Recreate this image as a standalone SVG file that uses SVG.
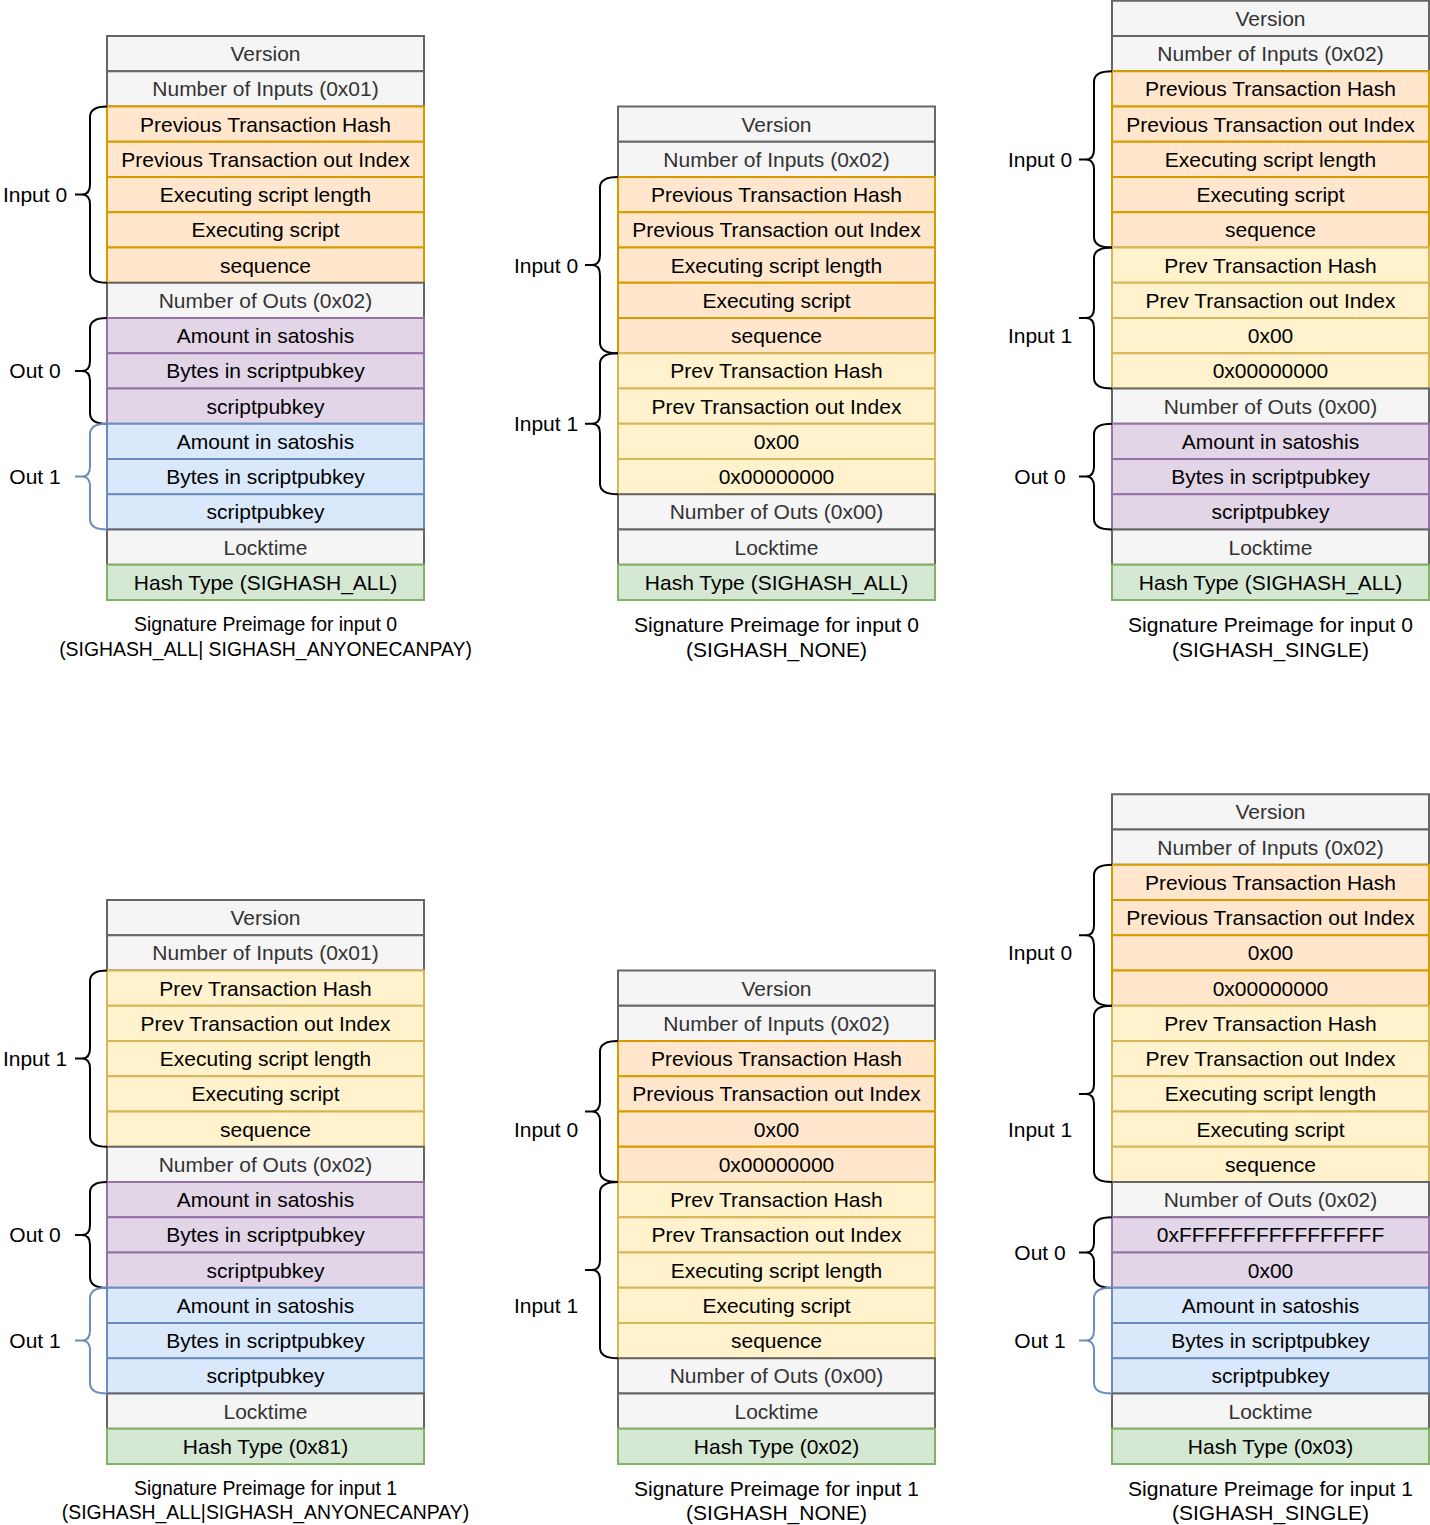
<svg xmlns="http://www.w3.org/2000/svg" width="1430" height="1525" viewBox="0 0 1430 1525">
<style>
rect{stroke-width:2}
.g{fill:#f5f5f5;stroke:#666666}
.o{fill:#ffe6cc;stroke:#d79b00}
.y{fill:#fff2cc;stroke:#d6b656}
.p{fill:#e1d5e7;stroke:#9673a6}
.b{fill:#dae8fc;stroke:#6c8ebf}
.n{fill:#d5e8d4;stroke:#82b366}
text{font-family:"Liberation Sans",Arial,sans-serif;font-size:21px;text-anchor:middle;fill:#000}
text.tg{fill:#333333}
.cap1{font-size:19.4px}
.br{fill:none;stroke:#000;stroke-width:2}
.bb{fill:none;stroke:#6c8ebf;stroke-width:2}
</style>

<!-- Table A: top-left -->
<g id="tableA">
<g id="A0"><rect class="g" x="107" y="36" width="317" height="35.25"/><text class="tg" x="265.5" y="61">Version</text></g>
<g id="A1"><rect class="g" x="107" y="71.25" width="317" height="35.25"/><text class="tg" x="265.5" y="96.25">Number of Inputs (0x01)</text></g>
<g id="A2"><rect class="o" x="107" y="106.5" width="317" height="35.25"/><text x="265.5" y="131.5">Previous Transaction Hash</text></g>
<g id="A3"><rect class="o" x="107" y="141.75" width="317" height="35.25"/><text x="265.5" y="166.75">Previous Transaction out Index</text></g>
<g id="A4"><rect class="o" x="107" y="177" width="317" height="35.25"/><text x="265.5" y="202">Executing script length</text></g>
<g id="A5"><rect class="o" x="107" y="212.25" width="317" height="35.25"/><text x="265.5" y="237.25">Executing script</text></g>
<g id="A6"><rect class="o" x="107" y="247.5" width="317" height="35.25"/><text x="265.5" y="272.5">sequence</text></g>
<g id="A7"><rect class="g" x="107" y="282.75" width="317" height="35.25"/><text class="tg" x="265.5" y="307.75">Number of Outs (0x02)</text></g>
<g id="A8"><rect class="p" x="107" y="318" width="317" height="35.25"/><text x="265.5" y="343">Amount in satoshis</text></g>
<g id="A9"><rect class="p" x="107" y="353.25" width="317" height="35.25"/><text x="265.5" y="378.25">Bytes in scriptpubkey</text></g>
<g id="A10"><rect class="p" x="107" y="388.5" width="317" height="35.25"/><text x="265.5" y="413.5">scriptpubkey</text></g>
<g id="A11"><rect class="b" x="107" y="423.75" width="317" height="35.25"/><text x="265.5" y="448.75">Amount in satoshis</text></g>
<g id="A12"><rect class="b" x="107" y="459" width="317" height="35.25"/><text x="265.5" y="484">Bytes in scriptpubkey</text></g>
<g id="A13"><rect class="b" x="107" y="494.25" width="317" height="35.25"/><text x="265.5" y="519.25">scriptpubkey</text></g>
<g id="A14"><rect class="g" x="107" y="529.5" width="317" height="35.25"/><text class="tg" x="265.5" y="554.5">Locktime</text></g>
<g id="A15"><rect class="n" x="107" y="564.75" width="317" height="35.25"/><text x="265.5" y="589.75">Hash Type (SIGHASH_ALL)</text></g>
<g id="A-caption"><text class="cap1" x="265.5" y="631">Signature Preimage for input 0</text><text class="cap1" x="265.5" y="656">(SIGHASH_ALL| SIGHASH_ANYONECANPAY)</text></g>
</g>

<!-- Table B: top-middle -->
<g id="tableB">
<g id="B0"><rect class="g" x="618" y="106.5" width="317" height="35.25"/><text class="tg" x="776.5" y="131.5">Version</text></g>
<g id="B1"><rect class="g" x="618" y="141.75" width="317" height="35.25"/><text class="tg" x="776.5" y="166.75">Number of Inputs (0x02)</text></g>
<g id="B2"><rect class="o" x="618" y="177" width="317" height="35.25"/><text x="776.5" y="202">Previous Transaction Hash</text></g>
<g id="B3"><rect class="o" x="618" y="212.25" width="317" height="35.25"/><text x="776.5" y="237.25">Previous Transaction out Index</text></g>
<g id="B4"><rect class="o" x="618" y="247.5" width="317" height="35.25"/><text x="776.5" y="272.5">Executing script length</text></g>
<g id="B5"><rect class="o" x="618" y="282.75" width="317" height="35.25"/><text x="776.5" y="307.75">Executing script</text></g>
<g id="B6"><rect class="o" x="618" y="318" width="317" height="35.25"/><text x="776.5" y="343">sequence</text></g>
<g id="B7"><rect class="y" x="618" y="353.25" width="317" height="35.25"/><text x="776.5" y="378.25">Prev Transaction Hash</text></g>
<g id="B8"><rect class="y" x="618" y="388.5" width="317" height="35.25"/><text x="776.5" y="413.5">Prev Transaction out Index</text></g>
<g id="B9"><rect class="y" x="618" y="423.75" width="317" height="35.25"/><text x="776.5" y="448.75">0x00</text></g>
<g id="B10"><rect class="y" x="618" y="459" width="317" height="35.25"/><text x="776.5" y="484">0x00000000</text></g>
<g id="B11"><rect class="g" x="618" y="494.25" width="317" height="35.25"/><text class="tg" x="776.5" y="519.25">Number of Outs (0x00)</text></g>
<g id="B12"><rect class="g" x="618" y="529.5" width="317" height="35.25"/><text class="tg" x="776.5" y="554.5">Locktime</text></g>
<g id="B13"><rect class="n" x="618" y="564.75" width="317" height="35.25"/><text x="776.5" y="589.75">Hash Type (SIGHASH_ALL)</text></g>
<g id="B-caption"><text x="776.5" y="631.5">Signature Preimage for input 0</text><text x="776.5" y="656.5">(SIGHASH_NONE)</text></g>
</g>

<!-- Table C: top-right -->
<g id="tableC">
<g id="C0"><rect class="g" x="1112" y="0.75" width="317" height="35.25"/><text class="tg" x="1270.5" y="25.75">Version</text></g>
<g id="C1"><rect class="g" x="1112" y="36" width="317" height="35.25"/><text class="tg" x="1270.5" y="61">Number of Inputs (0x02)</text></g>
<g id="C2"><rect class="o" x="1112" y="71.25" width="317" height="35.25"/><text x="1270.5" y="96.25">Previous Transaction Hash</text></g>
<g id="C3"><rect class="o" x="1112" y="106.5" width="317" height="35.25"/><text x="1270.5" y="131.5">Previous Transaction out Index</text></g>
<g id="C4"><rect class="o" x="1112" y="141.75" width="317" height="35.25"/><text x="1270.5" y="166.75">Executing script length</text></g>
<g id="C5"><rect class="o" x="1112" y="177" width="317" height="35.25"/><text x="1270.5" y="202">Executing script</text></g>
<g id="C6"><rect class="o" x="1112" y="212.25" width="317" height="35.25"/><text x="1270.5" y="237.25">sequence</text></g>
<g id="C7"><rect class="y" x="1112" y="247.5" width="317" height="35.25"/><text x="1270.5" y="272.5">Prev Transaction Hash</text></g>
<g id="C8"><rect class="y" x="1112" y="282.75" width="317" height="35.25"/><text x="1270.5" y="307.75">Prev Transaction out Index</text></g>
<g id="C9"><rect class="y" x="1112" y="318" width="317" height="35.25"/><text x="1270.5" y="343">0x00</text></g>
<g id="C10"><rect class="y" x="1112" y="353.25" width="317" height="35.25"/><text x="1270.5" y="378.25">0x00000000</text></g>
<g id="C11"><rect class="g" x="1112" y="388.5" width="317" height="35.25"/><text class="tg" x="1270.5" y="413.5">Number of Outs (0x00)</text></g>
<g id="C12"><rect class="p" x="1112" y="423.75" width="317" height="35.25"/><text x="1270.5" y="448.75">Amount in satoshis</text></g>
<g id="C13"><rect class="p" x="1112" y="459" width="317" height="35.25"/><text x="1270.5" y="484">Bytes in scriptpubkey</text></g>
<g id="C14"><rect class="p" x="1112" y="494.25" width="317" height="35.25"/><text x="1270.5" y="519.25">scriptpubkey</text></g>
<g id="C15"><rect class="g" x="1112" y="529.5" width="317" height="35.25"/><text class="tg" x="1270.5" y="554.5">Locktime</text></g>
<g id="C16"><rect class="n" x="1112" y="564.75" width="317" height="35.25"/><text x="1270.5" y="589.75">Hash Type (SIGHASH_ALL)</text></g>
<g id="C-caption"><text x="1270.5" y="631.5">Signature Preimage for input 0</text><text x="1270.5" y="656.5">(SIGHASH_SINGLE)</text></g>
</g>

<!-- Table D: bottom-left -->
<g id="tableD">
<g id="D0"><rect class="g" x="107" y="900" width="317" height="35.25"/><text class="tg" x="265.5" y="925">Version</text></g>
<g id="D1"><rect class="g" x="107" y="935.25" width="317" height="35.25"/><text class="tg" x="265.5" y="960.25">Number of Inputs (0x01)</text></g>
<g id="D2"><rect class="y" x="107" y="970.5" width="317" height="35.25"/><text x="265.5" y="995.5">Prev Transaction Hash</text></g>
<g id="D3"><rect class="y" x="107" y="1005.75" width="317" height="35.25"/><text x="265.5" y="1030.75">Prev Transaction out Index</text></g>
<g id="D4"><rect class="y" x="107" y="1041" width="317" height="35.25"/><text x="265.5" y="1066">Executing script length</text></g>
<g id="D5"><rect class="y" x="107" y="1076.25" width="317" height="35.25"/><text x="265.5" y="1101.25">Executing script</text></g>
<g id="D6"><rect class="y" x="107" y="1111.5" width="317" height="35.25"/><text x="265.5" y="1136.5">sequence</text></g>
<g id="D7"><rect class="g" x="107" y="1146.75" width="317" height="35.25"/><text class="tg" x="265.5" y="1171.75">Number of Outs (0x02)</text></g>
<g id="D8"><rect class="p" x="107" y="1182" width="317" height="35.25"/><text x="265.5" y="1207">Amount in satoshis</text></g>
<g id="D9"><rect class="p" x="107" y="1217.25" width="317" height="35.25"/><text x="265.5" y="1242.25">Bytes in scriptpubkey</text></g>
<g id="D10"><rect class="p" x="107" y="1252.5" width="317" height="35.25"/><text x="265.5" y="1277.5">scriptpubkey</text></g>
<g id="D11"><rect class="b" x="107" y="1287.75" width="317" height="35.25"/><text x="265.5" y="1312.75">Amount in satoshis</text></g>
<g id="D12"><rect class="b" x="107" y="1323" width="317" height="35.25"/><text x="265.5" y="1348">Bytes in scriptpubkey</text></g>
<g id="D13"><rect class="b" x="107" y="1358.25" width="317" height="35.25"/><text x="265.5" y="1383.25">scriptpubkey</text></g>
<g id="D14"><rect class="g" x="107" y="1393.5" width="317" height="35.25"/><text class="tg" x="265.5" y="1418.5">Locktime</text></g>
<g id="D15"><rect class="n" x="107" y="1428.75" width="317" height="35.25"/><text x="265.5" y="1453.75">Hash Type (0x81)</text></g>
<g id="D-caption"><text class="cap1" x="265.5" y="1495">Signature Preimage for input 1</text><text class="cap1" x="265.5" y="1519">(SIGHASH_ALL|SIGHASH_ANYONECANPAY)</text></g>
</g>

<!-- Table E: bottom-middle -->
<g id="tableE">
<g id="E0"><rect class="g" x="618" y="970.5" width="317" height="35.25"/><text class="tg" x="776.5" y="995.5">Version</text></g>
<g id="E1"><rect class="g" x="618" y="1005.75" width="317" height="35.25"/><text class="tg" x="776.5" y="1030.75">Number of Inputs (0x02)</text></g>
<g id="E2"><rect class="o" x="618" y="1041" width="317" height="35.25"/><text x="776.5" y="1066">Previous Transaction Hash</text></g>
<g id="E3"><rect class="o" x="618" y="1076.25" width="317" height="35.25"/><text x="776.5" y="1101.25">Previous Transaction out Index</text></g>
<g id="E4"><rect class="o" x="618" y="1111.5" width="317" height="35.25"/><text x="776.5" y="1136.5">0x00</text></g>
<g id="E5"><rect class="o" x="618" y="1146.75" width="317" height="35.25"/><text x="776.5" y="1171.75">0x00000000</text></g>
<g id="E6"><rect class="y" x="618" y="1182" width="317" height="35.25"/><text x="776.5" y="1207">Prev Transaction Hash</text></g>
<g id="E7"><rect class="y" x="618" y="1217.25" width="317" height="35.25"/><text x="776.5" y="1242.25">Prev Transaction out Index</text></g>
<g id="E8"><rect class="y" x="618" y="1252.5" width="317" height="35.25"/><text x="776.5" y="1277.5">Executing script length</text></g>
<g id="E9"><rect class="y" x="618" y="1287.75" width="317" height="35.25"/><text x="776.5" y="1312.75">Executing script</text></g>
<g id="E10"><rect class="y" x="618" y="1323" width="317" height="35.25"/><text x="776.5" y="1348">sequence</text></g>
<g id="E11"><rect class="g" x="618" y="1358.25" width="317" height="35.25"/><text class="tg" x="776.5" y="1383.25">Number of Outs (0x00)</text></g>
<g id="E12"><rect class="g" x="618" y="1393.5" width="317" height="35.25"/><text class="tg" x="776.5" y="1418.5">Locktime</text></g>
<g id="E13"><rect class="n" x="618" y="1428.75" width="317" height="35.25"/><text x="776.5" y="1453.75">Hash Type (0x02)</text></g>
<g id="E-caption"><text x="776.5" y="1495.5">Signature Preimage for input 1</text><text x="776.5" y="1519.5">(SIGHASH_NONE)</text></g>
</g>

<!-- Table F: bottom-right -->
<g id="tableF">
<g id="F0"><rect class="g" x="1112" y="794.25" width="317" height="35.25"/><text class="tg" x="1270.5" y="819.25">Version</text></g>
<g id="F1"><rect class="g" x="1112" y="829.5" width="317" height="35.25"/><text class="tg" x="1270.5" y="854.5">Number of Inputs (0x02)</text></g>
<g id="F2"><rect class="o" x="1112" y="864.75" width="317" height="35.25"/><text x="1270.5" y="889.75">Previous Transaction Hash</text></g>
<g id="F3"><rect class="o" x="1112" y="900" width="317" height="35.25"/><text x="1270.5" y="925">Previous Transaction out Index</text></g>
<g id="F4"><rect class="o" x="1112" y="935.25" width="317" height="35.25"/><text x="1270.5" y="960.25">0x00</text></g>
<g id="F5"><rect class="o" x="1112" y="970.5" width="317" height="35.25"/><text x="1270.5" y="995.5">0x00000000</text></g>
<g id="F6"><rect class="y" x="1112" y="1005.75" width="317" height="35.25"/><text x="1270.5" y="1030.75">Prev Transaction Hash</text></g>
<g id="F7"><rect class="y" x="1112" y="1041" width="317" height="35.25"/><text x="1270.5" y="1066">Prev Transaction out Index</text></g>
<g id="F8"><rect class="y" x="1112" y="1076.25" width="317" height="35.25"/><text x="1270.5" y="1101.25">Executing script length</text></g>
<g id="F9"><rect class="y" x="1112" y="1111.5" width="317" height="35.25"/><text x="1270.5" y="1136.5">Executing script</text></g>
<g id="F10"><rect class="y" x="1112" y="1146.75" width="317" height="35.25"/><text x="1270.5" y="1171.75">sequence</text></g>
<g id="F11"><rect class="g" x="1112" y="1182" width="317" height="35.25"/><text class="tg" x="1270.5" y="1207">Number of Outs (0x02)</text></g>
<g id="F12"><rect class="p" x="1112" y="1217.25" width="317" height="35.25"/><text x="1270.5" y="1242.25">0xFFFFFFFFFFFFFFFF</text></g>
<g id="F13"><rect class="p" x="1112" y="1252.5" width="317" height="35.25"/><text x="1270.5" y="1277.5">0x00</text></g>
<g id="F14"><rect class="b" x="1112" y="1287.75" width="317" height="35.25"/><text x="1270.5" y="1312.75">Amount in satoshis</text></g>
<g id="F15"><rect class="b" x="1112" y="1323" width="317" height="35.25"/><text x="1270.5" y="1348">Bytes in scriptpubkey</text></g>
<g id="F16"><rect class="b" x="1112" y="1358.25" width="317" height="35.25"/><text x="1270.5" y="1383.25">scriptpubkey</text></g>
<g id="F17"><rect class="g" x="1112" y="1393.5" width="317" height="35.25"/><text class="tg" x="1270.5" y="1418.5">Locktime</text></g>
<g id="F18"><rect class="n" x="1112" y="1428.75" width="317" height="35.25"/><text x="1270.5" y="1453.75">Hash Type (0x03)</text></g>
<g id="F-caption"><text x="1270.5" y="1495.5">Signature Preimage for input 1</text><text x="1270.5" y="1519.5">(SIGHASH_SINGLE)</text></g>
</g>

<!-- Brace labels -->
<g id="labels">
<text x="35" y="202">Input 0</text>
<text x="35" y="378.3">Out 0</text>
<text x="35" y="484">Out 1</text>
<text x="546" y="272.5">Input 0</text>
<text x="546" y="431.2">Input 1</text>
<text x="1040" y="166.8">Input 0</text>
<text x="1040" y="343.4">Input 1</text>
<text x="1040" y="484">Out 0</text>
<text x="35" y="1066">Input 1</text>
<text x="35" y="1242.3">Out 0</text>
<text x="35" y="1348">Out 1</text>
<text x="546" y="1137.4">Input 0</text>
<text x="546" y="1313.4">Input 1</text>
<text x="1040" y="960.4">Input 0</text>
<text x="1040" y="1137.4">Input 1</text>
<text x="1040" y="1260.4">Out 0</text>
<text x="1040" y="1348.4">Out 1</text>
</g>

<!-- Braces (connectors) -->
<g id="braces">
<path class="br" d="M107,106.5 Q90,106.5 90,117 L90,184.6 Q90,194.6 82,194.6 L75,194.6 M82,194.6 Q90,194.6 90,204.6 L90,272.2 Q90,282.75 107,282.75"/>
<path class="br" d="M107,318 Q90,318 90,328.5 L90,360.9 Q90,370.9 82,370.9 L75,370.9 M82,370.9 Q90,370.9 90,380.9 L90,413.2 Q90,423.75 107,423.75"/>
<path class="bb" d="M107,423.75 Q90,423.75 90,434.2 L90,466.6 Q90,476.6 82,476.6 L75,476.6 M82,476.6 Q90,476.6 90,486.6 L90,519 Q90,529.5 107,529.5"/>

<path class="br" d="M618,177 Q600,177 600,187.5 L600,255.1 Q600,265.1 592,265.1 L585,265.1 M592,265.1 Q600,265.1 600,275.1 L600,342.7 Q600,353.25 618,353.25"/>
<path class="br" d="M618,353.25 Q600,353.25 600,363.7 L600,413.75 Q600,423.75 592,423.75 L585,423.75 M592,423.75 Q600,423.75 600,433.75 L600,483.7 Q600,494.25 618,494.25"/>

<path class="br" d="M1112,71.25 Q1094,71.25 1094,81.7 L1094,149.4 Q1094,159.4 1086,159.4 L1079,159.4 M1086,159.4 Q1094,159.4 1094,169.4 L1094,237 Q1094,247.5 1112,247.5"/>
<path class="br" d="M1112,247.5 Q1094,247.5 1094,258 L1094,308 Q1094,318 1086,318 L1079,318 M1086,318 Q1094,318 1094,328 L1094,378 Q1094,388.5 1112,388.5"/>
<path class="br" d="M1112,423.75 Q1094,423.75 1094,434.2 L1094,466.6 Q1094,476.6 1086,476.6 L1079,476.6 M1086,476.6 Q1094,476.6 1094,486.6 L1094,519 Q1094,529.5 1112,529.5"/>

<path class="br" d="M107,970.5 Q90,970.5 90,981 L90,1048.6 Q90,1058.6 82,1058.6 L75,1058.6 M82,1058.6 Q90,1058.6 90,1068.6 L90,1136.2 Q90,1146.75 107,1146.75"/>
<path class="br" d="M107,1182 Q90,1182 90,1192.5 L90,1224.9 Q90,1234.9 82,1234.9 L75,1234.9 M82,1234.9 Q90,1234.9 90,1244.9 L90,1277.2 Q90,1287.75 107,1287.75"/>
<path class="bb" d="M107,1287.75 Q90,1287.75 90,1298.2 L90,1330.6 Q90,1340.6 82,1340.6 L75,1340.6 M82,1340.6 Q90,1340.6 90,1350.6 L90,1383 Q90,1393.5 107,1393.5"/>

<path class="br" d="M618,1041 Q600,1041 600,1051.5 L600,1101.5 Q600,1111.5 592,1111.5 L585,1111.5 M592,1111.5 Q600,1111.5 600,1121.5 L600,1171.5 Q600,1182 618,1182"/>
<path class="br" d="M618,1182 Q600,1182 600,1192.5 L600,1260.1 Q600,1270.1 592,1270.1 L585,1270.1 M592,1270.1 Q600,1270.1 600,1280.1 L600,1347.7 Q600,1358.25 618,1358.25"/>

<path class="br" d="M1112,864.75 Q1094,864.75 1094,875.2 L1094,925.25 Q1094,935.25 1086,935.25 L1079,935.25 M1086,935.25 Q1094,935.25 1094,945.25 L1094,995.2 Q1094,1005.75 1112,1005.75"/>
<path class="br" d="M1112,1005.75 Q1094,1005.75 1094,1016.2 L1094,1083.9 Q1094,1093.9 1086,1093.9 L1079,1093.9 M1086,1093.9 Q1094,1093.9 1094,1103.9 L1094,1171.5 Q1094,1182 1112,1182"/>
<path class="br" d="M1112,1217.25 Q1094,1217.25 1094,1227.7 L1094,1242.5 Q1094,1252.5 1086,1252.5 L1079,1252.5 M1086,1252.5 Q1094,1252.5 1094,1262.5 L1094,1277.2 Q1094,1287.75 1112,1287.75"/>
<path class="bb" d="M1112,1287.75 Q1094,1287.75 1094,1298.2 L1094,1330.6 Q1094,1340.6 1086,1340.6 L1079,1340.6 M1086,1340.6 Q1094,1340.6 1094,1350.6 L1094,1383 Q1094,1393.5 1112,1393.5"/>
</g>
</svg>
